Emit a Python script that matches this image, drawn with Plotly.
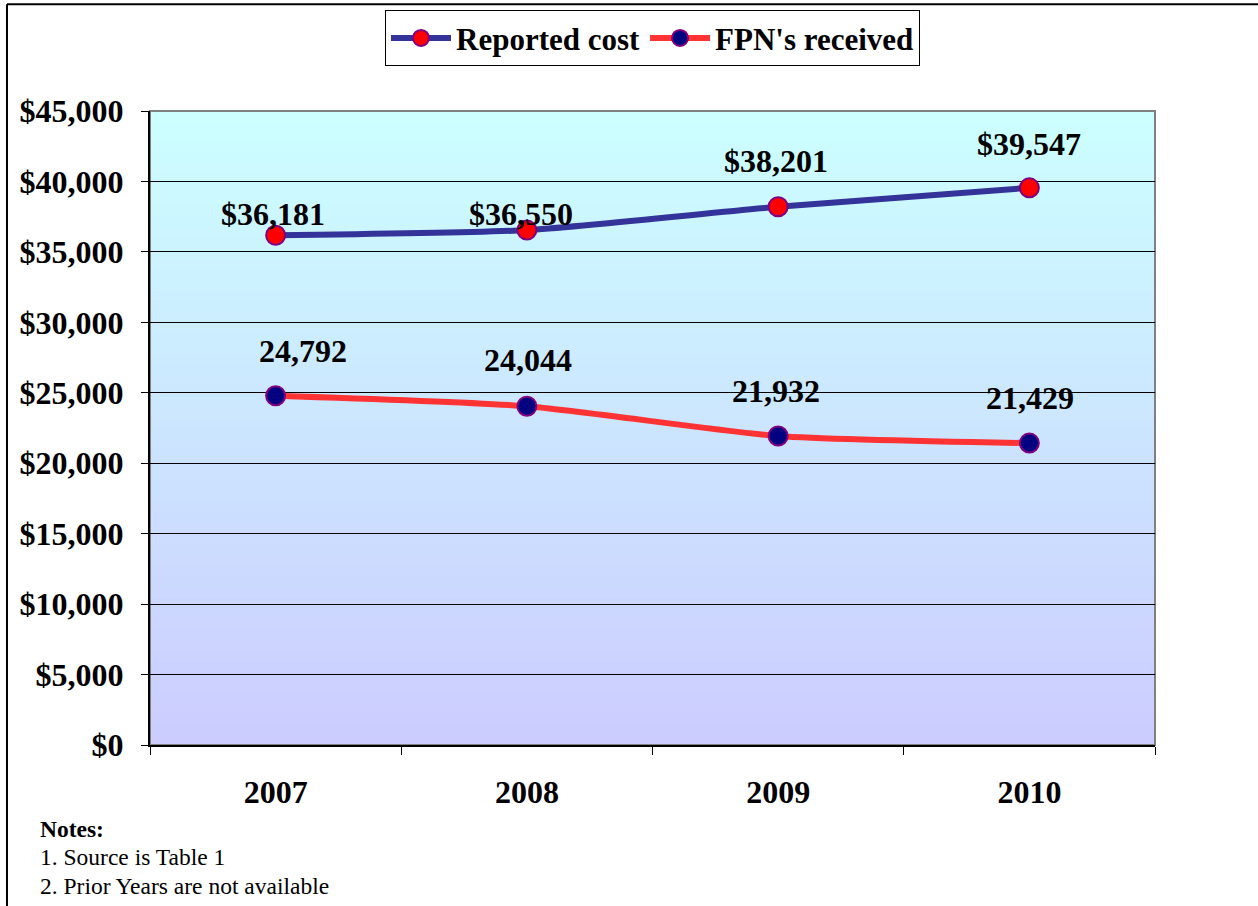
import plotly.graph_objects as go

years = ["2007", "2008", "2009", "2010"]
reported_cost = [36181, 36550, 38201, 39547]
fpn_received = [24792, 24044, 21932, 21429]
cost_labels = ["$36,181", "$36,550", "$38,201", "$39,547"]
fpn_labels = ["24,792", "24,044", "21,932", "21,429"]
y_ticks = [0, 5000, 10000, 15000, 20000, 25000, 30000, 35000, 40000, 45000]
y_tick_text = ["$0", "$5,000", "$10,000", "$15,000", "$20,000", "$25,000",
               "$30,000", "$35,000", "$40,000", "$45,000"]
notes = ["<b>Notes:</b>", "1. Source is Table 1", "2. Prior Years are not available"]

# style-only offsets for labels (pixels)
cost_shift = [(-3, 21), (-6, 16), (-2, 46), (0, 44)]
fpn_shift = [(27, 45), (1, 46), (-2, 45), (1, 45)]

FONT = "Liberation Serif, Times New Roman, serif"

fig = go.Figure()
fig.add_trace(go.Scatter(
    x=years, y=reported_cost, name="Reported cost", mode="lines+markers",
    line=dict(color="#333399", width=6, shape="spline", smoothing=0.6),
    marker=dict(size=19, color="#FF0000", line=dict(color="#800080", width=2)),
))
fig.add_trace(go.Scatter(
    x=years, y=fpn_received, name="FPN's received", mode="lines+markers",
    line=dict(color="#FF3333", width=6, shape="spline", smoothing=0.6),
    marker=dict(size=19, color="#000080", line=dict(color="#800080", width=2)),
))

annotations = []
for i, yr in enumerate(years):
    annotations.append(dict(xref="x", yref="y", x=i, y=reported_cost[i], text=cost_labels[i],
                            showarrow=False, xshift=cost_shift[i][0], yshift=cost_shift[i][1],
                            font=dict(family=FONT, size=32, color="black", weight="bold")))
    annotations.append(dict(xref="x", yref="y", x=i, y=fpn_received[i], text=fpn_labels[i],
                            showarrow=False, xshift=fpn_shift[i][0], yshift=fpn_shift[i][1],
                            font=dict(family=FONT, size=32, color="black", weight="bold")))
note_y = [-0.1323, -0.1764, -0.2220]
for t, yy in zip(notes, note_y):
    annotations.append(dict(xref="paper", yref="paper", x=-0.1115, y=yy, xanchor="left",
                            yanchor="middle", text=t, showarrow=False,
                            font=dict(family=FONT, size=23.5, color="black")))

# gradient background bands
shapes = []
n = 60
top = (204, 255, 255)
bot = (204, 204, 255)
for k in range(n):
    f = (k + 0.5) / n
    c = tuple(round(bot[j] + (top[j] - bot[j]) * f) for j in range(3))
    shapes.append(dict(type="rect", xref="x domain", yref="y domain", x0=0, x1=1,
                       y0=k / n, y1=(k + 1) / n + 0.002, fillcolor="rgb(%d,%d,%d)" % c,
                       line=dict(width=0), layer="below"))
# plot area border (gray)
shapes.append(dict(type="rect", xref="x domain", yref="y domain", x0=0, x1=1, y0=0, y1=1,
                   line=dict(color="#808080", width=2), layer="below"))
# outer frame
shapes.append(dict(type="line", xref="paper", yref="paper", x0=-0.1423, x1=1.3,
                   y0=1.1685, y1=1.1685, line=dict(color="black", width=2)))
shapes.append(dict(type="line", xref="paper", yref="paper", x0=-0.1423, x1=-0.1423,
                   y0=1.1685, y1=-0.4, line=dict(color="black", width=2)))

fig.update_layout(
    width=1258, height=906,
    margin=dict(l=150, r=103, t=110, b=161),
    paper_bgcolor="white", plot_bgcolor="white",
    font=dict(family=FONT, color="black"),
    showlegend=True,
    legend=dict(orientation="h", x=0.5, xanchor="center", y=1.157, yanchor="top",
                bgcolor="white", bordercolor="black", borderwidth=1,
                font=dict(family=FONT, size=31, color="black", weight="bold"),
                itemwidth=60),
    annotations=annotations,
    shapes=shapes,
    xaxis=dict(type="category", range=[-0.5, 3.5], showgrid=False,
               showline=True, linecolor="black", linewidth=2,
               ticks="outside", tickson="boundaries", ticklen=8, tickcolor="black",
               tickfont=dict(family=FONT, size=32, color="black", weight="bold"),
               ticklabelstandoff=18, zeroline=False),
    yaxis=dict(range=[0, 45000], tickvals=y_ticks, ticktext=y_tick_text,
               showgrid=True, gridcolor="black", gridwidth=1,
               showline=True, linecolor="black", linewidth=2,
               ticks="outside", ticklen=7, tickcolor="black",
               tickfont=dict(family=FONT, size=32, color="black", weight="bold"),
               ticklabelstandoff=11, zeroline=False),
)

fig.write_html("out.html", config={"displayModeBar": False},
               post_script="document.body.style.margin='0';document.body.style.overflow='hidden';")
